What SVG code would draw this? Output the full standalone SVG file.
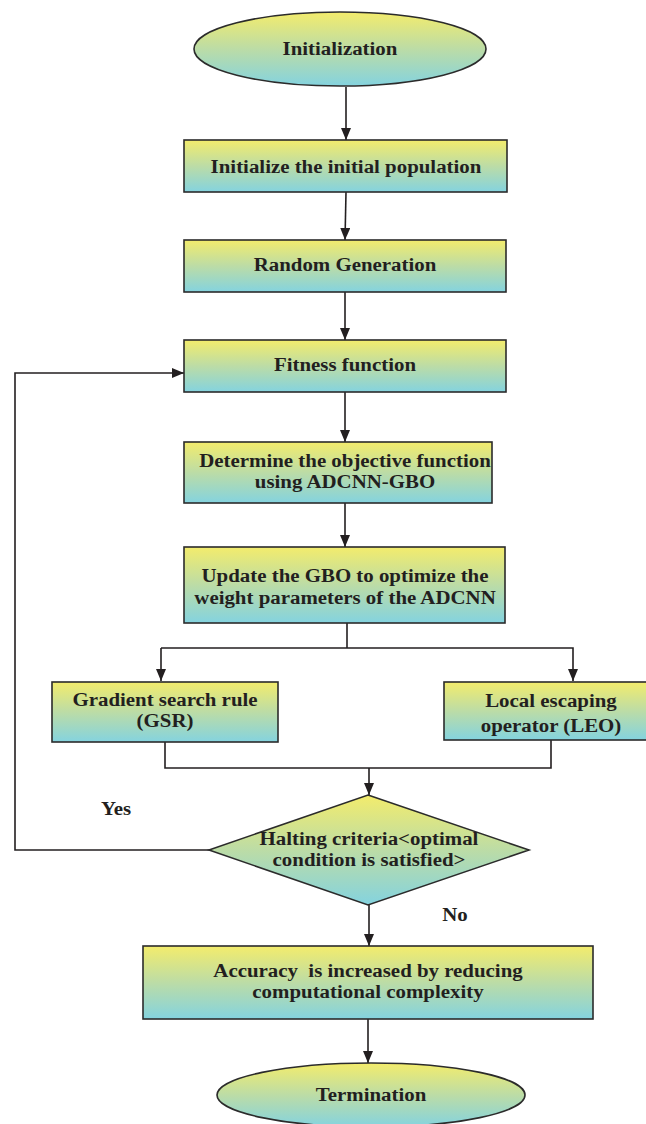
<svg xmlns="http://www.w3.org/2000/svg" width="646" height="1124" viewBox="0 0 646 1124">
<defs>
<linearGradient id="g" x1="0" y1="0" x2="0" y2="1">
<stop offset="0" stop-color="#f3ec6c"/>
<stop offset="0.5" stop-color="#bcdca6"/>
<stop offset="1" stop-color="#84d3df"/>
</linearGradient>
<marker id="ah" viewBox="0 0 12 10" refX="12" refY="5" markerWidth="12" markerHeight="10" markerUnits="userSpaceOnUse" orient="auto">
<path d="M0,0 L12,5 L0,10 Z" fill="#231f20"/>
</marker>
</defs>
<style>
.shape{fill:url(#g);stroke:#2b2b2b;stroke-width:1.6}
.t{font-family:"Liberation Serif","Times New Roman",serif;font-weight:bold;font-size:18px;fill:#231f20;text-anchor:middle}
.c{fill:none;stroke:#231f20;stroke-width:1.6}
</style>
<rect width="646" height="1124" fill="#ffffff"/>
<g id="connectors">
<line class="c" x1="346" y1="87" x2="346" y2="140" marker-end="url(#ah)"/>
<line class="c" x1="346" y1="192" x2="345" y2="240" marker-end="url(#ah)"/>
<line class="c" x1="345" y1="292" x2="345" y2="340" marker-end="url(#ah)"/>
<line class="c" x1="345" y1="392" x2="345" y2="442" marker-end="url(#ah)"/>
<line class="c" x1="345" y1="503" x2="345" y2="547" marker-end="url(#ah)"/>
<polyline class="c" points="347,623 347,648"/>
<polyline class="c" points="161,648 573,648 573,681" marker-end="url(#ah)"/>
<line class="c" x1="161" y1="648" x2="161" y2="681" marker-end="url(#ah)"/>
<polyline class="c" points="165,742 165,768 551,768 551,740"/>
<line class="c" x1="369" y1="768" x2="369" y2="795" marker-end="url(#ah)"/>
<polyline class="c" points="209,850 15,850 15,373 184,373" marker-end="url(#ah)"/>
<line class="c" x1="369" y1="905" x2="369" y2="946" marker-end="url(#ah)"/>
<line class="c" x1="368" y1="1019" x2="368" y2="1063" marker-end="url(#ah)"/>
<text class="t" transform="translate(116,815) scale(1.16,1)">Yes</text>
<text class="t" transform="translate(455,921) scale(1.16,1)">No</text>
</g>
<g id="initialization">
<ellipse class="shape" cx="340" cy="49" rx="146" ry="37"/>
<text class="t" transform="translate(340,55) scale(1.16,1)">Initialization</text>
</g>
<g id="init-population">
<rect class="shape" x="184" y="140" width="323" height="52"/>
<text class="t" transform="translate(346,173) scale(1.16,1)">Initialize the initial population</text>
</g>
<g id="random-generation">
<rect class="shape" x="184" y="240" width="322" height="52"/>
<text class="t" transform="translate(345,271) scale(1.16,1)">Random Generation</text>
</g>
<g id="fitness">
<rect class="shape" x="184" y="340" width="322" height="52"/>
<text class="t" transform="translate(345,371) scale(1.16,1)">Fitness function</text>
</g>
<g id="objective">
<rect class="shape" x="184" y="442" width="308" height="61"/>
<text class="t" transform="translate(345,467) scale(1.16,1)">Determine the objective function</text>
<text class="t" transform="translate(345,488) scale(1.16,1)">using ADCNN-GBO</text>
</g>
<g id="update-gbo">
<rect class="shape" x="184" y="547" width="321" height="76"/>
<text class="t" transform="translate(345,582) scale(1.16,1)">Update the GBO to optimize the</text>
<text class="t" transform="translate(345,604) scale(1.16,1)">weight parameters of the ADCNN</text>
</g>
<g id="gsr">
<rect class="shape" x="52" y="682" width="226" height="60"/>
<text class="t" transform="translate(165,706) scale(1.16,1)">Gradient search rule</text>
<text class="t" transform="translate(165,727) scale(1.16,1)">(GSR)</text>
</g>
<g id="leo">
<rect class="shape" x="444" y="682" width="214" height="58"/>
<text class="t" transform="translate(551,707) scale(1.16,1)">Local escaping</text>
<text class="t" transform="translate(551,732) scale(1.16,1)">operator (LEO)</text>
</g>
<g id="halting">
<polygon class="shape" points="368,795 529,850 368,905 209,850"/>
<text class="t" transform="translate(369,845) scale(1.16,1)">Halting criteria&lt;optimal</text>
<text class="t" transform="translate(369,866) scale(1.16,1)">condition is satisfied&gt;</text>
</g>
<g id="accuracy">
<rect class="shape" x="143" y="946" width="450" height="73"/>
<text class="t" xml:space="preserve" transform="translate(368,977) scale(1.16,1)">Accuracy  is increased by reducing</text>
<text class="t" transform="translate(368,998) scale(1.16,1)">computational complexity</text>
</g>
<g id="termination">
<ellipse class="shape" cx="371" cy="1095" rx="154" ry="32"/>
<text class="t" transform="translate(371,1101) scale(1.16,1)">Termination</text>
</g>
</svg>
